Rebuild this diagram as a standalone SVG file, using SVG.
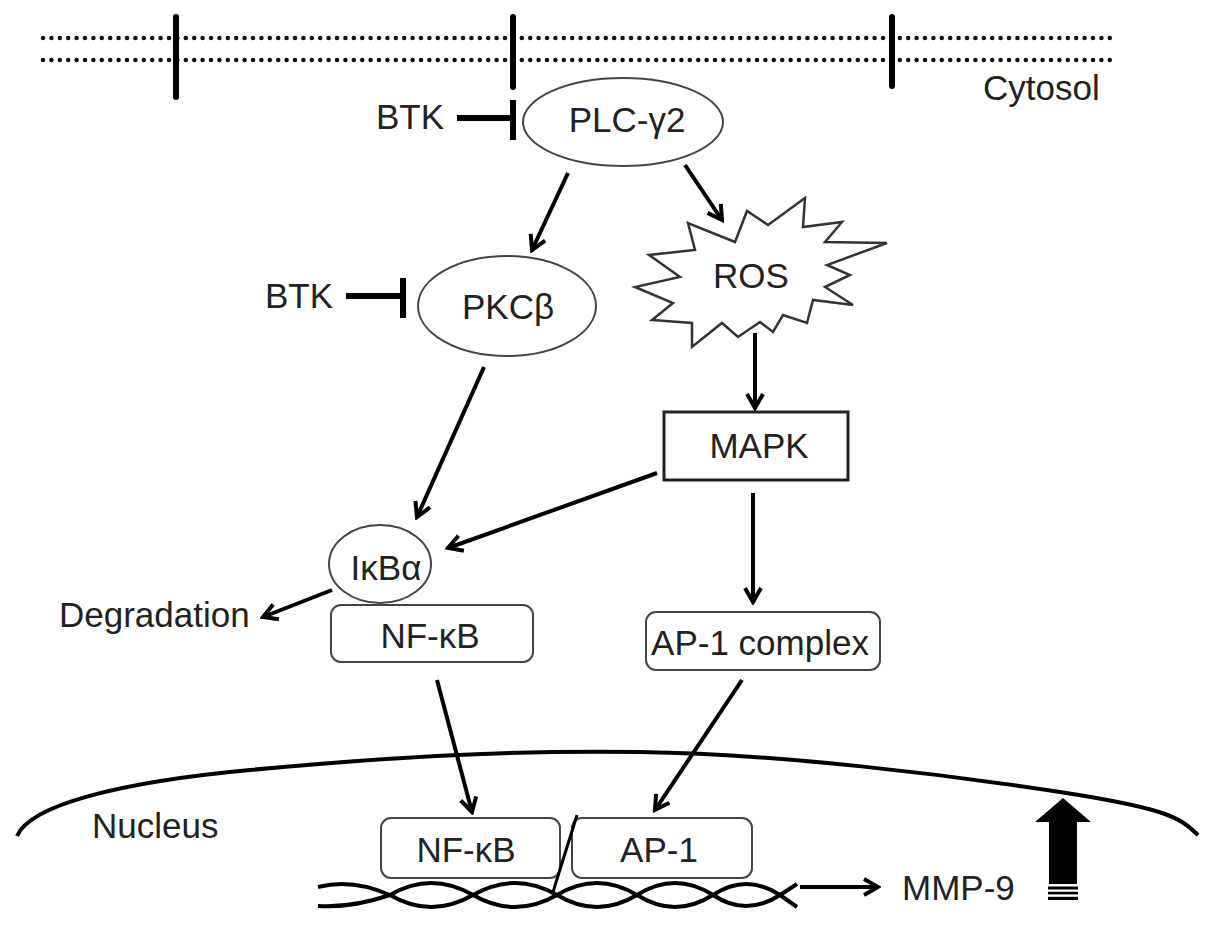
<svg xmlns="http://www.w3.org/2000/svg" width="1205" height="927" viewBox="0 0 1205 927">
<style>
  text { font-family: "Liberation Sans", Arial, sans-serif; font-size: 35px; fill: #222; }
  .mid { text-anchor: middle; }
  .node { fill: #fff; stroke: #444; stroke-width: 2; }
  .box { fill: #fff; stroke: #222; stroke-width: 3; }
  .arrow { fill: none; stroke: #000; stroke-width: 4; marker-end: url(#ah); }
  .inh { fill: none; stroke: #000; stroke-width: 6; }
  .dots { fill: none; stroke: #111; stroke-width: 4.5; stroke-linecap: round; stroke-dasharray: 0 8.4; }
  .bar { stroke: #000; stroke-width: 6; stroke-linecap: round; }
  .dna { fill: none; stroke: #000; stroke-width: 4; }
</style>
<defs>
  <marker id="ah" viewBox="0 0 20 20" refX="17" refY="10" markerWidth="20" markerHeight="20" markerUnits="userSpaceOnUse" orient="auto">
    <path d="M3,2 L17,10 L3,18" fill="none" stroke="#000" stroke-width="4"/>
  </marker>
</defs>
<rect width="1205" height="927" fill="#fff"/>

<g id="membrane">
  <line class="dots" x1="43" y1="38" x2="1115" y2="38"/>
  <line class="dots" x1="43" y1="60" x2="1115" y2="60"/>
  <line class="bar" x1="176" y1="17" x2="176" y2="97"/>
  <line class="bar" x1="513" y1="17" x2="513" y2="87"/>
  <line class="bar" x1="892" y1="17" x2="892" y2="86"/>
  <text x="983" y="100">Cytosol</text>
</g>

<g id="nucleus-envelope">
  <path d="M17,836 C30,805 120,782 250,770 S500,750 640,752 S950,775 1060,792 S1180,818 1198,835" fill="none" stroke="#000" stroke-width="4"/>
  <text x="92" y="838">Nucleus</text>
</g>

<g id="btk1"><text class="mid" x="410" y="129">BTK</text></g>
<g id="btk2"><text class="mid" x="299" y="308">BTK</text></g>

<g id="plcg2">
  <ellipse class="node" cx="623" cy="122" rx="100" ry="44"/>
  <text class="mid" x="627" y="132">PLC-γ2</text>
</g>

<g id="pkcb">
  <ellipse class="node" cx="507" cy="306" rx="89" ry="50"/>
  <text class="mid" x="508" y="319">PKCβ</text>
</g>

<g id="ros">
  <polygon points="805,198 768,225 747,211 735,242 688,223 695,250 649,255 680,277 635,287 673,303 652,320 692,323 692,347 722,323 738,337 760,322 773,332 783,315 807,323 813,300 853,305 825,287 850,275 827,265 887,243 825,242 842,222 803,227" fill="#fff" stroke="#333" stroke-width="2.5" stroke-linejoin="miter"/>
  <text class="mid" x="751" y="288">ROS</text>
</g>

<g id="mapk">
  <rect class="box" x="664" y="412" width="184" height="68"/>
  <text class="mid" x="759" y="458">MAPK</text>
</g>

<g id="ikba">
  <ellipse class="node" cx="380" cy="564" rx="51" ry="39"/>
  <text class="mid" x="386" y="580">IκBα</text>
</g>

<g id="nfkb-cyto">
  <rect class="node" x="331" y="605" width="202" height="57" rx="10"/>
  <text class="mid" x="430" y="648">NF-κB</text>
</g>

<g id="degradation"><text x="59" y="627">Degradation</text></g>

<g id="ap1-complex">
  <rect class="node" x="646" y="612" width="234" height="58" rx="10"/>
  <text class="mid" x="760" y="655">AP-1 complex</text>
</g>

<g id="nfkb-nuc">
  <rect class="node" x="381" y="818" width="179" height="60" rx="10"/>
  <text class="mid" x="466" y="862">NF-κB</text>
</g>

<g id="ap1-nuc">
  <rect class="node" x="572" y="818" width="180" height="60" rx="10"/>
  <text class="mid" x="659" y="862">AP-1</text>
</g>

<g id="dna">
  <path class="dna" d="M318,887 Q352,878 390,895 Q431,919 473,895 Q515,871 557,895 Q597,919 637,895 Q675,871 713,895 Q746,917 780,895 L797,884"/>
  <path class="dna" d="M318,906 Q352,908 390,895 Q431,871 473,895 Q515,919 557,895 Q597,871 637,895 Q675,919 713,895 Q746,873 780,895 L797,907"/>
  <line x1="577" y1="815" x2="553" y2="892" stroke="#000" stroke-width="3"/>
</g>

<g id="mmp9">
  <text x="902" y="900">MMP-9</text>
</g>

<g id="up-arrow">
  <polygon points="1063,798 1091,822 1077,822 1077,884 1049,884 1049,822 1035,822" fill="#000"/>
  <rect x="1048" y="886.5" width="30" height="3" fill="#000"/>
  <rect x="1048" y="891.8" width="30" height="2.6" fill="#000"/>
  <rect x="1048" y="896.8" width="30" height="3.2" fill="#000"/>
</g>

<g id="connectors">
  <line class="arrow" x1="568" y1="173" x2="532" y2="250"/>
  <line class="arrow" x1="685" y1="165" x2="722" y2="220"/>
  <line class="arrow" x1="755" y1="333" x2="755" y2="408"/>
  <line class="arrow" x1="484" y1="367" x2="417" y2="517"/>
  <line class="arrow" x1="657" y1="473" x2="448" y2="548"/>
  <line class="arrow" x1="332" y1="590" x2="263" y2="617"/>
  <line class="arrow" x1="753" y1="493" x2="753" y2="602"/>
  <line class="arrow" x1="437" y1="680" x2="472" y2="812"/>
  <line class="arrow" x1="742" y1="680" x2="655" y2="810"/>
  <line class="arrow" x1="800" y1="887" x2="878" y2="887"/>
  <line class="inh" x1="457" y1="118" x2="513" y2="118"/>
  <line class="inh" x1="513" y1="100" x2="513" y2="140"/>
  <line class="inh" x1="346" y1="296" x2="403" y2="296"/>
  <line class="inh" x1="403" y1="278" x2="403" y2="318"/>
</g>
</svg>
